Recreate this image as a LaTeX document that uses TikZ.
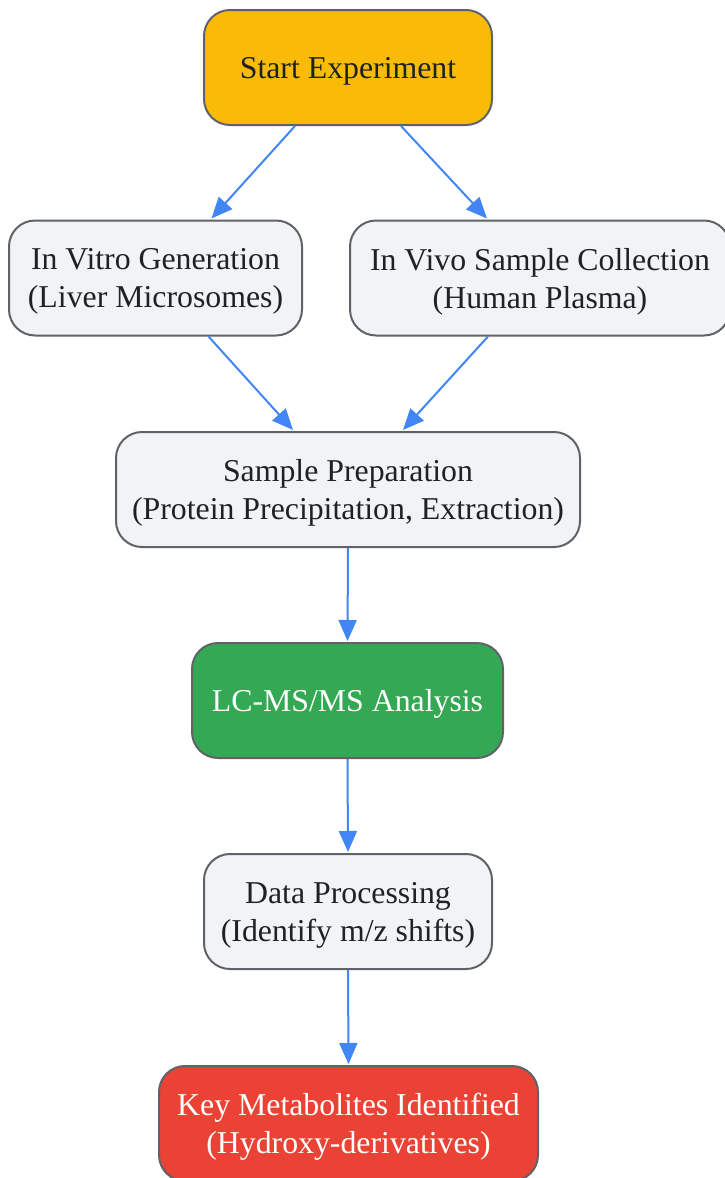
\documentclass[tikz,border=0pt]{standalone}
\usepackage{fontspec}
\setmainfont{Liberation Serif}
\usetikzlibrary{arrows.meta,calc}
\definecolor{gyellow}{HTML}{F9BB06}
\definecolor{ggreen}{HTML}{34A853}
\definecolor{gred}{HTML}{EA4335}
\definecolor{ggrey}{HTML}{F1F3F4}
\definecolor{gborder}{HTML}{5F6368}
\definecolor{gblue}{HTML}{4285F4}
\definecolor{gtext}{HTML}{202124}
\tikzset{
  box/.style={draw=gborder, line width=2pt, rounded corners=26pt, align=center,
    font=\fontsize{31.8}{38}\selectfont, text=gtext, inner sep=0pt, minimum height=115pt,
    text depth=-4pt},
  greybox/.style={box, fill=ggrey},
  conn/.style={gblue, line width=2pt, -{Triangle[length=21pt,width=18pt]}}
}
\begin{document}
\begin{tikzpicture}[x=1pt,y=-1pt]
\useasboundingbox (0,0) rectangle (725,1178);
\node[box, fill=gyellow, minimum width=288pt] (start) at (348,67.5) {Start Experiment};
\node[greybox, minimum width=293pt] (vitro) at (155.5,278) {In Vitro Generation\\(Liver Microsomes)};
\node[greybox, minimum width=380pt] (vivo) at (540,278) {In Vivo Sample Collection\\(Human Plasma)};
\node[greybox, minimum width=464pt] (prep) at (348,489.5) {Sample Preparation\\(Protein Precipitation, Extraction)};
\node[box, fill=ggreen, text=white, minimum width=311pt] (lcms) at (347.5,700.5) {LC-MS/MS Analysis};
\node[greybox, minimum width=288pt] (data) at (348,911.5) {Data Processing\\(Identify m/z shifts)};
\node[box, fill=gred, text=white, minimum width=379pt] (key) at (348.5,1123.5) {Key Metabolites Identified\\(Hydroxy-derivatives)};
\draw[conn] ($(start.south)+(-53,0)$) -- ($(vitro.north)+(56,-1)$);
\draw[conn] ($(start.south)+(53,0)$) -- ($(vivo.north)+(-53,-1)$);
\draw[conn] ($(vitro.south)+(53,0)$) -- ($(prep.north)+(-55,-1)$);
\draw[conn] ($(vivo.south)+(-52,0)$) -- ($(prep.north)+(55,-1)$);
\draw[conn] (prep.south) -- ($(lcms.north)+(0,-1)$);
\draw[conn] (lcms.south) -- ($(data.north)+(0,-1)$);
\draw[conn] (data.south) -- ($(key.north)+(0,-1)$);
\end{tikzpicture}
\end{document}
